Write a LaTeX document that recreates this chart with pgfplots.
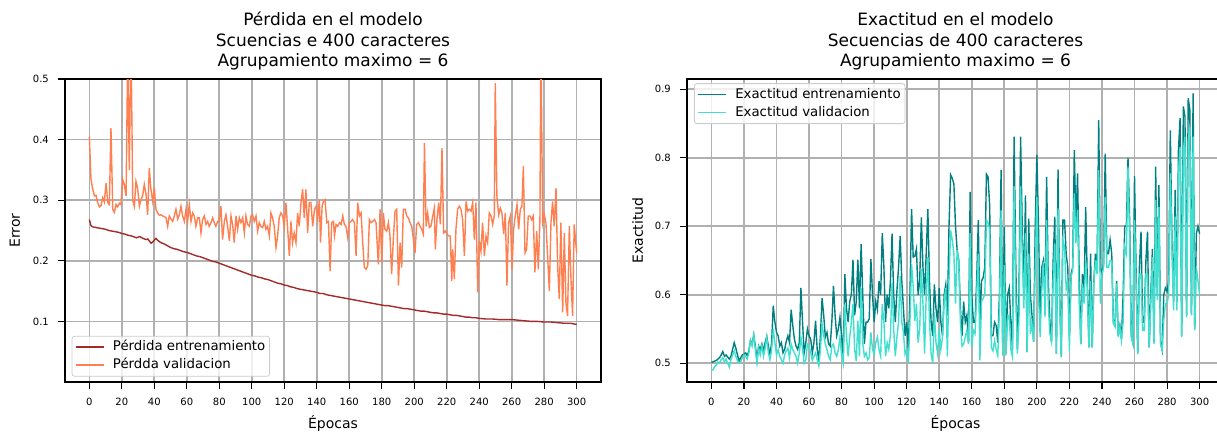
\documentclass[border=0pt]{standalone}
\usepackage{fontspec}
\setmainfont{DejaVu Sans}
\usepackage{pgfplots}
\usepackage{pgfplotstable}
\pgfplotsset{compat=1.18}

\definecolor{cbrown}{HTML}{A52A2A}
\definecolor{ccoral}{HTML}{FF7F50}
\definecolor{cteal}{HTML}{008080}
\definecolor{cturq}{HTML}{40E0D0}
\definecolor{cgrid}{HTML}{B0B0B0}
\definecolor{cleg}{HTML}{CCCCCC}

% epoch, train accuracy, validation accuracy
\pgfplotstableread{
e t v
0 .501 .491
1 .502 .490
2 .503 .495
3 .504 .497
4 .506 .502
5 .508 .500
6 .512 .505
7 .517 .508
8 .510 .502
9 .512 .506
10 .509 .500
11 .506 .494
12 .510 .505
13 .520 .512
14 .530 .518
15 .522 .510
16 .512 .504
17 .503 .500
18 .508 .502
19 .512 .508
20 .513 .512
21 .515 .510
22 .511 .506
23 .518 .515
24 .533 .533
25 .528 .525
26 .541 .541
27 .525 .520
28 .505 .500
29 .525 .522
30 .520 .512
31 .528 .526
32 .518 .510
33 .530 .522
34 .539 .538
35 .525 .515
36 .512 .505
37 .530 .520
38 .584 .550
39 .560 .530
40 .545 .512
41 .540 .520
42 .525 .510
43 .530 .505
44 .515 .500
45 .520 .512
46 .532 .518
47 .540 .522
48 .530 .508
49 .578 .528
50 .555 .520
51 .535 .515
52 .525 .510
53 .520 .500
54 .530 .515
55 .610 .538
56 .560 .520
57 .515 .500
58 .530 .505
59 .550 .528
60 .540 .525
61 .535 .515
62 .515 .504
63 .530 .510
64 .562 .515
65 .520 .505
66 .505 .496
67 .540 .520
68 .595 .557
69 .570 .540
70 .538 .528
71 .545 .520
72 .528 .510
73 .525 .505
74 .560 .525
75 .613 .528
76 .570 .515
77 .540 .510
78 .550 .520
79 .567 .538
80 .540 .512
81 .510 .500
82 .630 .586
83 .580 .540
84 .560 .510
85 .590 .538
86 .600 .560
87 .651 .586
88 .570 .520
89 .590 .503
90 .651 .562
91 .580 .510
92 .674 .610
93 .600 .530
94 .528 .510
95 .560 .515
96 .560 .505
97 .565 .508
98 .652 .545
99 .600 .520
100 .560 .513
101 .590 .530
102 .578 .538
103 .620 .520
104 .600 .510
105 .690 .586
106 .640 .560
107 .560 .510
108 .600 .530
109 .580 .520
110 .620 .540
111 .689 .617
112 .600 .550
113 .560 .510
114 .606 .538
115 .640 .560
116 .686 .627
117 .620 .560
118 .580 .545
119 .540 .513
120 .560 .520
121 .520 .500
122 .600 .560
123 .725 .645
124 .655 .612
125 .656 .562
126 .667 .587
127 .600 .530
128 .620 .550
129 .713 .638
130 .640 .587
131 .600 .514
132 .660 .600
133 .725 .655
134 .620 .560
135 .560 .514
136 .540 .500
137 .615 .575
138 .580 .530
139 .560 .514
140 .610 .550
141 .560 .520
142 .540 .538
143 .600 .590
144 .615 .610
145 .570 .510
146 .700 .620
147 .775 .694
148 .770 .680
149 .762 .660
150 .700 .587
151 .665 .665
152 .650 .650
153 .580 .560
154 .540 .525
155 .590 .528
156 .560 .538
157 .570 .548
158 .530 .528
159 .750 .690
160 .600 .523
161 .560 .548
162 .560 .543
163 .620 .600
164 .709 .660
165 .560 .504
166 .620 .590
167 .625 .595
168 .640 .600
169 .776 .709
170 .772 .705
171 .730 .695
172 .540 .523
173 .540 .518
174 .560 .533
175 .555 .520
176 .530 .511
177 .600 .580
178 .782 .723
179 .530 .511
180 .699 .643
181 .515 .511
182 .600 .565
183 .610 .570
184 .560 .520
185 .520 .509
186 .831 .758
187 .650 .600
188 .520 .514
189 .600 .560
190 .831 .758
191 .700 .660
192 .600 .580
193 .745 .690
194 .516 .516
195 .711 .660
196 .600 .543
197 .570 .558
198 .531 .531
199 .700 .640
200 .804 .743
201 .700 .600
202 .560 .538
203 .640 .605
204 .650 .648
205 .600 .567
206 .772 .709
207 .620 .587
208 .560 .543
209 .531 .531
210 .650 .620
211 .714 .675
212 .514 .514
213 .783 .726
214 .600 .587
215 .509 .509
216 .709 .680
217 .709 .670
218 .660 .608
219 .640 .620
220 .540 .518
221 .630 .626
222 .640 .635
223 .811 .748
224 .700 .675
225 .777 .724
226 .630 .587
227 .528 .528
228 .630 .616
229 .600 .587
230 .728 .650
231 .620 .608
232 .523 .523
233 .660 .620
234 .523 .523
235 .620 .616
236 .660 .650
237 .640 .630
238 .855 .782
239 .640 .587
240 .630 .630
241 .645 .640
242 .806 .743
243 .660 .640
244 .660 .640
245 .680 .650
246 .660 .650
247 .560 .558
248 .555 .553
249 .620 .616
250 .540 .538
251 .555 .553
252 .535 .533
253 .600 .560
254 .700 .670
255 .700 .660
256 .800 .787
257 .710 .680
258 .540 .538
259 .530 .528
260 .773 .709
261 .630 .611
262 .514 .514
263 .640 .630
264 .692 .630
265 .560 .548
266 .560 .548
267 .650 .630
268 .692 .630
269 .523 .523
270 .600 .587
271 .667 .655
272 .530 .528
273 .787 .738
274 .600 .592
275 .760 .728
276 .530 .528
277 .519 .519
278 .600 .563
279 .610 .587
280 .605 .587
281 .620 .600
282 .840 .777
283 .680 .670
284 .590 .577
285 .753 .714
286 .590 .577
287 .811 .777
288 .858 .816
289 .540 .538
290 .875 .811
291 .860 .830
292 .570 .567
293 .887 .826
294 .870 .845
295 .570 .570
296 .894 .831
297 .550 .548
298 .689 .640
299 .700 .620
300 .689 .600
}\acctable

\pgfplotsset{
  panel/.style={
    scale only axis,
    width=536pt, height=303pt,
    anchor=south west,
    xmin=-15, xmax=315,
    xtick={0,20,...,300},
    tick pos=left,
    tick align=outside,
    major tick length=7pt,
    tick style={black, line width=1.1pt},
    axis line style={black, line width=1.3pt},
    grid=major,
    major grid style={cgrid, line width=1.7pt},
    /pgf/number format/assume math mode=true,
    ticklabel style={font=\fontsize{10}{12}\selectfont, inner sep=0pt},
    xticklabel style={anchor=north, yshift=-9pt},
    yticklabel style={anchor=east, xshift=-9pt,
      /pgf/number format/fixed, /pgf/number format/precision=1,
      /pgf/number format/fixed zerofill},
    title style={at={(0.5,1)}, anchor=south, yshift=2.3pt, inner sep=0pt,
      align=center, font=\fontsize{17}{20.5}\selectfont},
    xlabel={Épocas},
    xlabel style={at={(axis description cs:0.5,0)}, anchor=base, yshift=-46pt,
      inner sep=0pt, font=\fontsize{14}{16}\selectfont},
    ylabel style={anchor=center, inner sep=0pt, font=\fontsize{14}{16}\selectfont},
    legend cell align=left,
    legend image code/.code={\draw[#1, line width=1.6pt] (0pt,0pt) -- (28pt,0pt);},
    legend style={draw=cleg, line width=0.8pt, rounded corners=2.5pt,
      fill=white, fill opacity=0.8, text opacity=1,
      font=\fontsize{13.3}{15}\selectfont,
      inner xsep=2.8pt, inner ysep=3pt, column sep=7pt, row sep=2pt,
      nodes={inner sep=1.5pt, text height=10pt, text depth=3pt}},
  },
}

\begin{document}
\begin{tikzpicture}
\begin{axis}[panel,
  at={(65pt,52pt)},
  ymin=0, ymax=0.5,
  ytick={0.1,0.2,0.3,0.4,0.5},
  title={Pérdida en el modelo\\Scuencias e 400 caracteres\\Agrupamiento maximo = 6},
  ylabel={Error},
  ylabel style={at={(axis description cs:-0.0933,0.5)}},
  legend style={at={(0.0125,0.0175)}, anchor=south west},
]
\addplot[cbrown, line width=1.4pt] coordinates {
(0,0.268) (1,0.258) (2,0.256) (4,0.255) (6,0.254) (8,0.253) (10,0.252) (12,0.250)
(14,0.249) (16,0.248) (18,0.247) (20,0.245) (22,0.244) (24,0.242) (26,0.241)
(28,0.239) (29,0.238) (31,0.240) (33,0.237) (35,0.235) (36,0.236) (38,0.229)
(39,0.231) (41,0.237) (42,0.234) (44,0.230) (46,0.228) (48,0.225) (50,0.222)
(52,0.220) (54,0.219) (56,0.217) (58,0.215) (60,0.214) (62,0.212) (64,0.210)
(66,0.208) (68,0.207) (70,0.205) (72,0.203) (74,0.201) (76,0.199) (78,0.198)
(80,0.196) (82,0.194) (84,0.192) (86,0.190) (88,0.188) (90,0.186) (92,0.184)
(94,0.182) (96,0.180) (98,0.178) (100,0.176) (102,0.175) (104,0.173) (106,0.172)
(108,0.170) (110,0.169) (112,0.167) (114,0.165) (116,0.163) (118,0.162) (120,0.160)
(122,0.159) (124,0.157) (126,0.156) (128,0.154) (130,0.153) (132,0.152) (134,0.151)
(136,0.150) (138,0.149) (140,0.148) (142,0.146) (144,0.146) (146,0.144) (148,0.143)
(150,0.142) (152,0.141) (154,0.140) (156,0.139) (158,0.138) (160,0.137) (162,0.136)
(164,0.135) (166,0.134) (168,0.133) (170,0.132) (172,0.131) (174,0.130) (176,0.129)
(178,0.128) (180,0.127) (182,0.126) (184,0.126) (186,0.125) (188,0.124) (190,0.123)
(192,0.122) (194,0.121) (196,0.121) (198,0.120) (200,0.119) (202,0.118) (204,0.117)
(206,0.117) (208,0.116) (210,0.115) (212,0.114) (214,0.114) (216,0.113) (218,0.112)
(220,0.112) (222,0.111) (224,0.110) (226,0.110) (228,0.109) (230,0.108) (232,0.107)
(234,0.107) (236,0.106) (238,0.106) (240,0.105) (244,0.104) (248,0.104) (252,0.103)
(256,0.103) (260,0.103) (264,0.102) (268,0.101) (272,0.100) (276,0.100) (280,0.099)
(284,0.099) (288,0.098) (292,0.097) (296,0.097) (300,0.095)
};
\addlegendentry{Pérdida entrenamiento}
\addplot[ccoral, line width=1.4pt] coordinates {
(0,0.405) (1.0,0.334) (2.1,0.318) (3.1,0.307) (4.1,0.308) (5.1,0.296) (6.2,0.289)
(7.2,0.291) (8.2,0.304) (9.2,0.297) (10.3,0.328) (11.3,0.296) (12.3,0.293)
(13.3,0.419) (14.4,0.285) (15.4,0.280) (16.4,0.293) (17.4,0.289) (18.5,0.295)
(19.5,0.293) (20.5,0.334) (21.5,0.326) (22.6,0.307) (23.6,0.540) (24.6,0.350)
(25.6,0.580) (26.7,0.300) (27.7,0.290) (28.7,0.331) (29.7,0.320) (30.8,0.290)
(31.8,0.301) (32.8,0.307) (33.8,0.326) (34.9,0.309) (35.9,0.276) (36.9,0.353)
(37.9,0.318) (39.0,0.298) (40.0,0.320) (41.0,0.285) (42.0,0.279) (43.1,0.275)
(44.1,0.276) (45.1,0.274) (46.2,0.273) (47.2,0.271) (48.2,0.257) (49.2,0.274)
(50.3,0.269) (51.3,0.265) (52.3,0.274) (53.3,0.285) (54.4,0.269) (55.4,0.276)
(56.4,0.290) (57.4,0.274) (58.5,0.265) (59.5,0.285) (60.5,0.265) (61.5,0.293)
(62.6,0.265) (63.6,0.279) (64.6,0.274) (65.6,0.257) (66.7,0.271) (67.7,0.271)
(68.7,0.246) (69.7,0.268) (70.8,0.274) (71.8,0.260) (72.8,0.265) (73.8,0.257)
(74.9,0.263) (75.9,0.271) (76.9,0.263) (77.9,0.257) (79.0,0.265) (80.0,0.265)
(81.0,0.290) (82.0,0.235) (83.1,0.265) (84.1,0.276) (85.1,0.257) (86.2,0.233)
(87.2,0.274) (88.2,0.260) (89.2,0.230) (90.3,0.274) (91.3,0.252) (92.3,0.271)
(93.3,0.263) (94.4,0.271) (95.4,0.246) (96.4,0.274) (97.4,0.260) (98.5,0.257)
(99.5,0.274) (100.5,0.276) (101.5,0.265) (102.6,0.274) (103.6,0.249) (104.6,0.263)
(105.6,0.257) (106.7,0.255) (107.7,0.265) (108.7,0.252) (109.7,0.257) (110.8,0.241)
(111.8,0.279) (112.8,0.271) (113.8,0.257) (114.9,0.222) (115.9,0.241) (116.9,0.271)
(117.9,0.279) (119.0,0.274) (120.0,0.257) (121.0,0.296) (122.0,0.257) (123.1,0.208)
(124.1,0.265) (125.1,0.230) (126.1,0.246) (127.2,0.230) (128.2,0.279) (129.2,0.257)
(130.3,0.296) (131.3,0.318) (132.3,0.271) (133.3,0.318) (134.4,0.246) (135.4,0.296)
(136.4,0.296) (137.5,0.257) (138.6,0.285) (139.6,0.290)
(140.6,0.268) (141.6,0.301) (142.3,0.230) (143.3,0.290) (144.1,0.298) (145.1,0.301)
(146.2,0.263) (147.2,0.265) (148.2,0.183) (149.2,0.263) (150.3,0.265) (150.9,0.241)
(151.9,0.260) (152.9,0.257) (154.0,0.263) (155.0,0.260) (156.0,0.274) (157.0,0.260)
(158.0,0.257) (159.1,0.238) (160.1,0.263) (161.1,0.265) (162.1,0.268) (163.2,0.263)
(164.2,0.208) (165.2,0.296) (166.3,0.274) (167.3,0.279) (168.3,0.230) (169.3,0.189)
(170.4,0.186) (171.4,0.192) (172.4,0.268) (173.4,0.263) (174.5,0.265) (175.5,0.268)
(176.5,0.263) (177.9,0.194) (179.0,0.285) (180.0,0.197) (181.0,0.279) (182.0,0.252)
(183.1,0.249) (184.1,0.263) (185.1,0.241) (186.1,0.178) (187.2,0.238) (188.2,0.282)
(189.2,0.285) (190.3,0.159) (191.3,0.230) (192.3,0.189) (193.3,0.285) (194.4,0.285)
(195.4,0.274) (196.4,0.271) (197.4,0.263) (198.5,0.257) (199.5,0.235) (200.5,0.213)
(201.5,0.260) (202.6,0.263) (203.6,0.257) (204.6,0.252) (205.6,0.244) (206.3,0.394)
(207.3,0.257) (208.3,0.279) (209.3,0.255) (210.3,0.257) (211.4,0.274) (212.4,0.287)
(213.0,0.219) (214.0,0.268) (215.1,0.296) (216.1,0.260) (217.1,0.386) (218.1,0.246)
(219.2,0.249) (220.2,0.244) (221.2,0.241) (222.2,0.241) (223.1,0.167) (223.7,0.219)
(224.7,0.170) (225.7,0.252) (226.7,0.285) (227.8,0.290) (228.8,0.285) (229.8,0.268)
(230.9,0.208) (231.9,0.298) (232.9,0.282) (233.9,0.285) (235.0,0.282) (236.0,0.296)
(237.0,0.235) (238.0,0.296) (239.1,0.148) (240.1,0.233) (241.1,0.216) (242.1,0.263)
(243.2,0.208) (244.2,0.241) (245.2,0.230) (246.2,0.279) (247.3,0.274) (248.3,0.260)
(249.3,0.274) (249.9,0.493) (250.9,0.307) (252.0,0.276) (253.0,0.287) (254.0,0.279)
(255.1,0.244) (256.1,0.279) (257.1,0.159) (258.1,0.263) (259.2,0.274) (260.2,0.186)
(261.2,0.252) (262.2,0.274) (263.3,0.293) (264.3,0.252) (265.3,0.285) (266.3,0.290)
(267.2,0.356) (268.2,0.213) (269.2,0.219) (270.2,0.274) (271.3,0.274) (272.3,0.268)
(273.3,0.274) (274.3,0.181) (275.4,0.249) (276.4,0.186) (277.4,0.268) (278.0,0.560)
(279.1,0.263) (280.1,0.276) (281.1,0.263) (282.1,0.208) (283.2,0.150) (284.2,0.263)
(285.2,0.298) (286.2,0.257) (287.3,0.320) (288.3,0.192) (289.3,0.137) (290.3,0.263)
(291.4,0.115) (292.4,0.246) (293.4,0.131) (294.4,0.109) (295.5,0.257) (296.5,0.170)
(297.5,0.109) (298.5,0.260) (300,0.213)
};
\addlegendentry{Pérdda validacion}
\end{axis}

\begin{axis}[panel,
  at={(687pt,52pt)},
  width=537pt,
  ymin=0.4725, ymax=0.915,
  ytick={0.5,0.6,0.7,0.8,0.9},
  title={Exactitud en el modelo\\Secuencias de 400 caracteres\\Agrupamiento maximo = 6},
  ylabel={Exactitud},
  ylabel style={at={(axis description cs:-0.0918,0.5)}},
  legend style={at={(0.013,0.986)}, anchor=north west},
]
\addplot[cteal, line width=1.4pt] table[x=e, y=t] {\acctable};
\addlegendentry{Exactitud entrenamiento}
\addplot[cturq, line width=1.4pt] table[x=e, y=v] {\acctable};
\addlegendentry{Exactitud validacion}
\end{axis}
\pgfresetboundingbox
\path (0,0) rectangle (1217pt,434pt);
\end{tikzpicture}
\end{document}
